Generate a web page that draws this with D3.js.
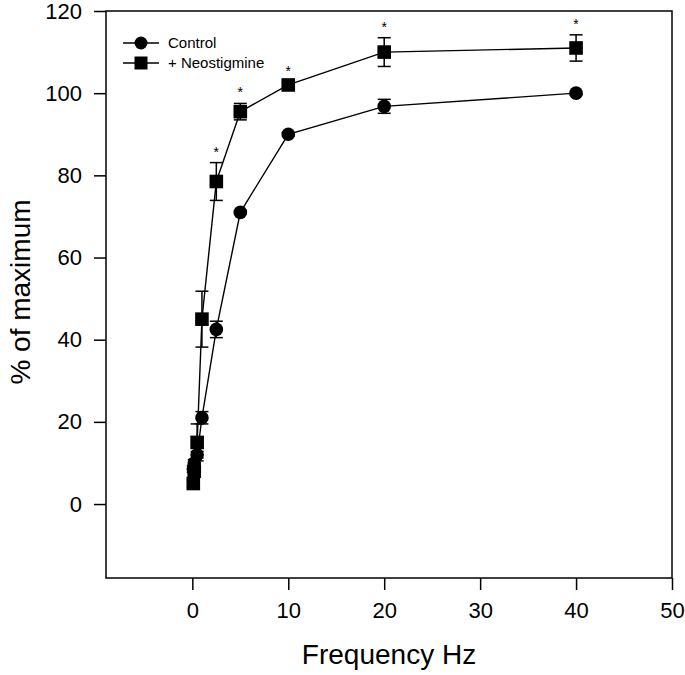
<!DOCTYPE html>
<html><head><meta charset="utf-8">
<script src="https://cdn.jsdelivr.net/npm/d3@7"></script>
<style>body{margin:0;background:#fff}svg{display:block}text{font-family:"Liberation Sans",Arial,sans-serif}</style>
</head><body>
<svg id="c" width="685" height="675"></svg>
<script>
const freq = [0.1, 0.2, 0.5, 1, 2.5, 5, 10, 20, 40];
const control = [8.5, 10, 12, 21, 42.5, 71, 90, 96.8, 100];
const controlErr = [0.8, 0.8, 0.8, 1.5, 2, 0.4, 0.4, 1.7, 0.4];
const neo = [5, 8, 15, 45, 78.5, 95.5, 102, 110, 111];
const neoErr = [0.8, 0.8, 4.5, 6.8, 4.6, 2, 0.6, 3.5, 3.2];
const neoSig = [false, false, false, false, true, true, true, true, true];
const xTicks = [0, 10, 20, 30, 40, 50];
const yTicks = [0, 20, 40, 60, 80, 100, 120];
const seriesNames = ["Control", "+ Neostigmine"];

const svg = d3.select("#c");
const x = d3.scaleLinear().domain([-9, 50]).range([106, 672]);
const y = d3.scaleLinear().domain([-18, 120]).range([578, 11]);

// frame
svg.append("rect").attr("x", x.range()[0]).attr("y", y.range()[1])
  .attr("width", x.range()[1] - x.range()[0]).attr("height", y.range()[0] - y.range()[1])
  .attr("fill", "none").attr("stroke", "#000").attr("stroke-width", 1.5);

const xAxis = svg.append("g").attr("transform", `translate(0,${y.range()[0]})`)
  .call(d3.axisBottom(x).tickValues(xTicks).tickSize(12).tickPadding(12).tickSizeOuter(0));
const yAxis = svg.append("g").attr("transform", `translate(${x.range()[0]},0)`)
  .call(d3.axisLeft(y).tickValues(yTicks).tickSize(12).tickPadding(12).tickSizeOuter(0));
[xAxis, yAxis].forEach(a => {
  a.select(".domain").remove();
  a.selectAll("line").attr("stroke", "#000").attr("stroke-width", 1.5);
  a.selectAll("text").attr("font-size", 22).attr("fill", "#000").attr("font-family", '"Liberation Sans",Arial,sans-serif');
});

svg.append("text").attr("x", 389).attr("y", 664).attr("text-anchor", "middle")
  .attr("font-size", 28).text("Frequency Hz");
svg.append("text").attr("transform", "translate(30,292) rotate(-90)").attr("text-anchor", "middle")
  .attr("font-size", 28).text("% of maximum");

const line = d3.line().x(d => x(d[0])).y(d => y(d[1]));
const cSeries = freq.map((f, i) => [f, control[i], controlErr[i]]);
const nSeries = freq.map((f, i) => [f, neo[i], neoErr[i], neoSig[i]]);

function drawSeries(data, shape) {
  const g = svg.append("g");
  g.append("path").datum(data).attr("d", line).attr("fill", "none").attr("stroke", "#000").attr("stroke-width", 1.4);
  const eb = g.selectAll(".eb").data(data).join("g");
  eb.append("line").attr("x1", d => x(d[0])).attr("x2", d => x(d[0]))
    .attr("y1", d => y(d[1] - d[2])).attr("y2", d => y(d[1] + d[2])).attr("stroke", "#000").attr("stroke-width", 1.5);
  [1, -1].forEach(s => {
    eb.append("line").attr("x1", d => x(d[0]) - 6.5).attr("x2", d => x(d[0]) + 6.5)
      .attr("y1", d => y(d[1] + s * d[2])).attr("y2", d => y(d[1] + s * d[2])).attr("stroke", "#000").attr("stroke-width", 1.5);
  });
  if (shape === "circle") {
    g.selectAll("circle").data(data).join("circle").attr("cx", d => x(d[0])).attr("cy", d => y(d[1])).attr("r", 6.8).attr("fill", "#000");
  } else {
    g.selectAll("rect.m").data(data).join("rect").attr("class", "m").attr("x", d => x(d[0]) - 6.8).attr("y", d => y(d[1]) - 6.8)
      .attr("width", 13.6).attr("height", 13.6).attr("fill", "#000");
  }
  return g;
}
drawSeries(cSeries, "circle");
const ng = drawSeries(nSeries, "square");
ng.selectAll("text.star").data(nSeries.filter(d => d[3])).join("text").attr("class", "star")
  .attr("x", d => x(d[0])).attr("y", d => y(d[1] + d[2]) - 6).attr("text-anchor", "middle")
  .attr("font-size", 14).text("*");

// legend
const lg = svg.append("g");
[0, 1].forEach(i => {
  const ly = 43 + i * 20;
  lg.append("line").attr("x1", 123).attr("x2", 159).attr("y1", ly).attr("y2", ly).attr("stroke", "#000").attr("stroke-width", 1.5);
  if (i === 0) lg.append("circle").attr("cx", 141).attr("cy", ly).attr("r", 6.5).attr("fill", "#000");
  else lg.append("rect").attr("x", 141 - 6.5).attr("y", ly - 6.5).attr("width", 13).attr("height", 13).attr("fill", "#000");
  lg.append("text").attr("x", 168).attr("y", ly + 5).attr("font-size", 15).text(seriesNames[i]);
});
</script>
</body></html>
